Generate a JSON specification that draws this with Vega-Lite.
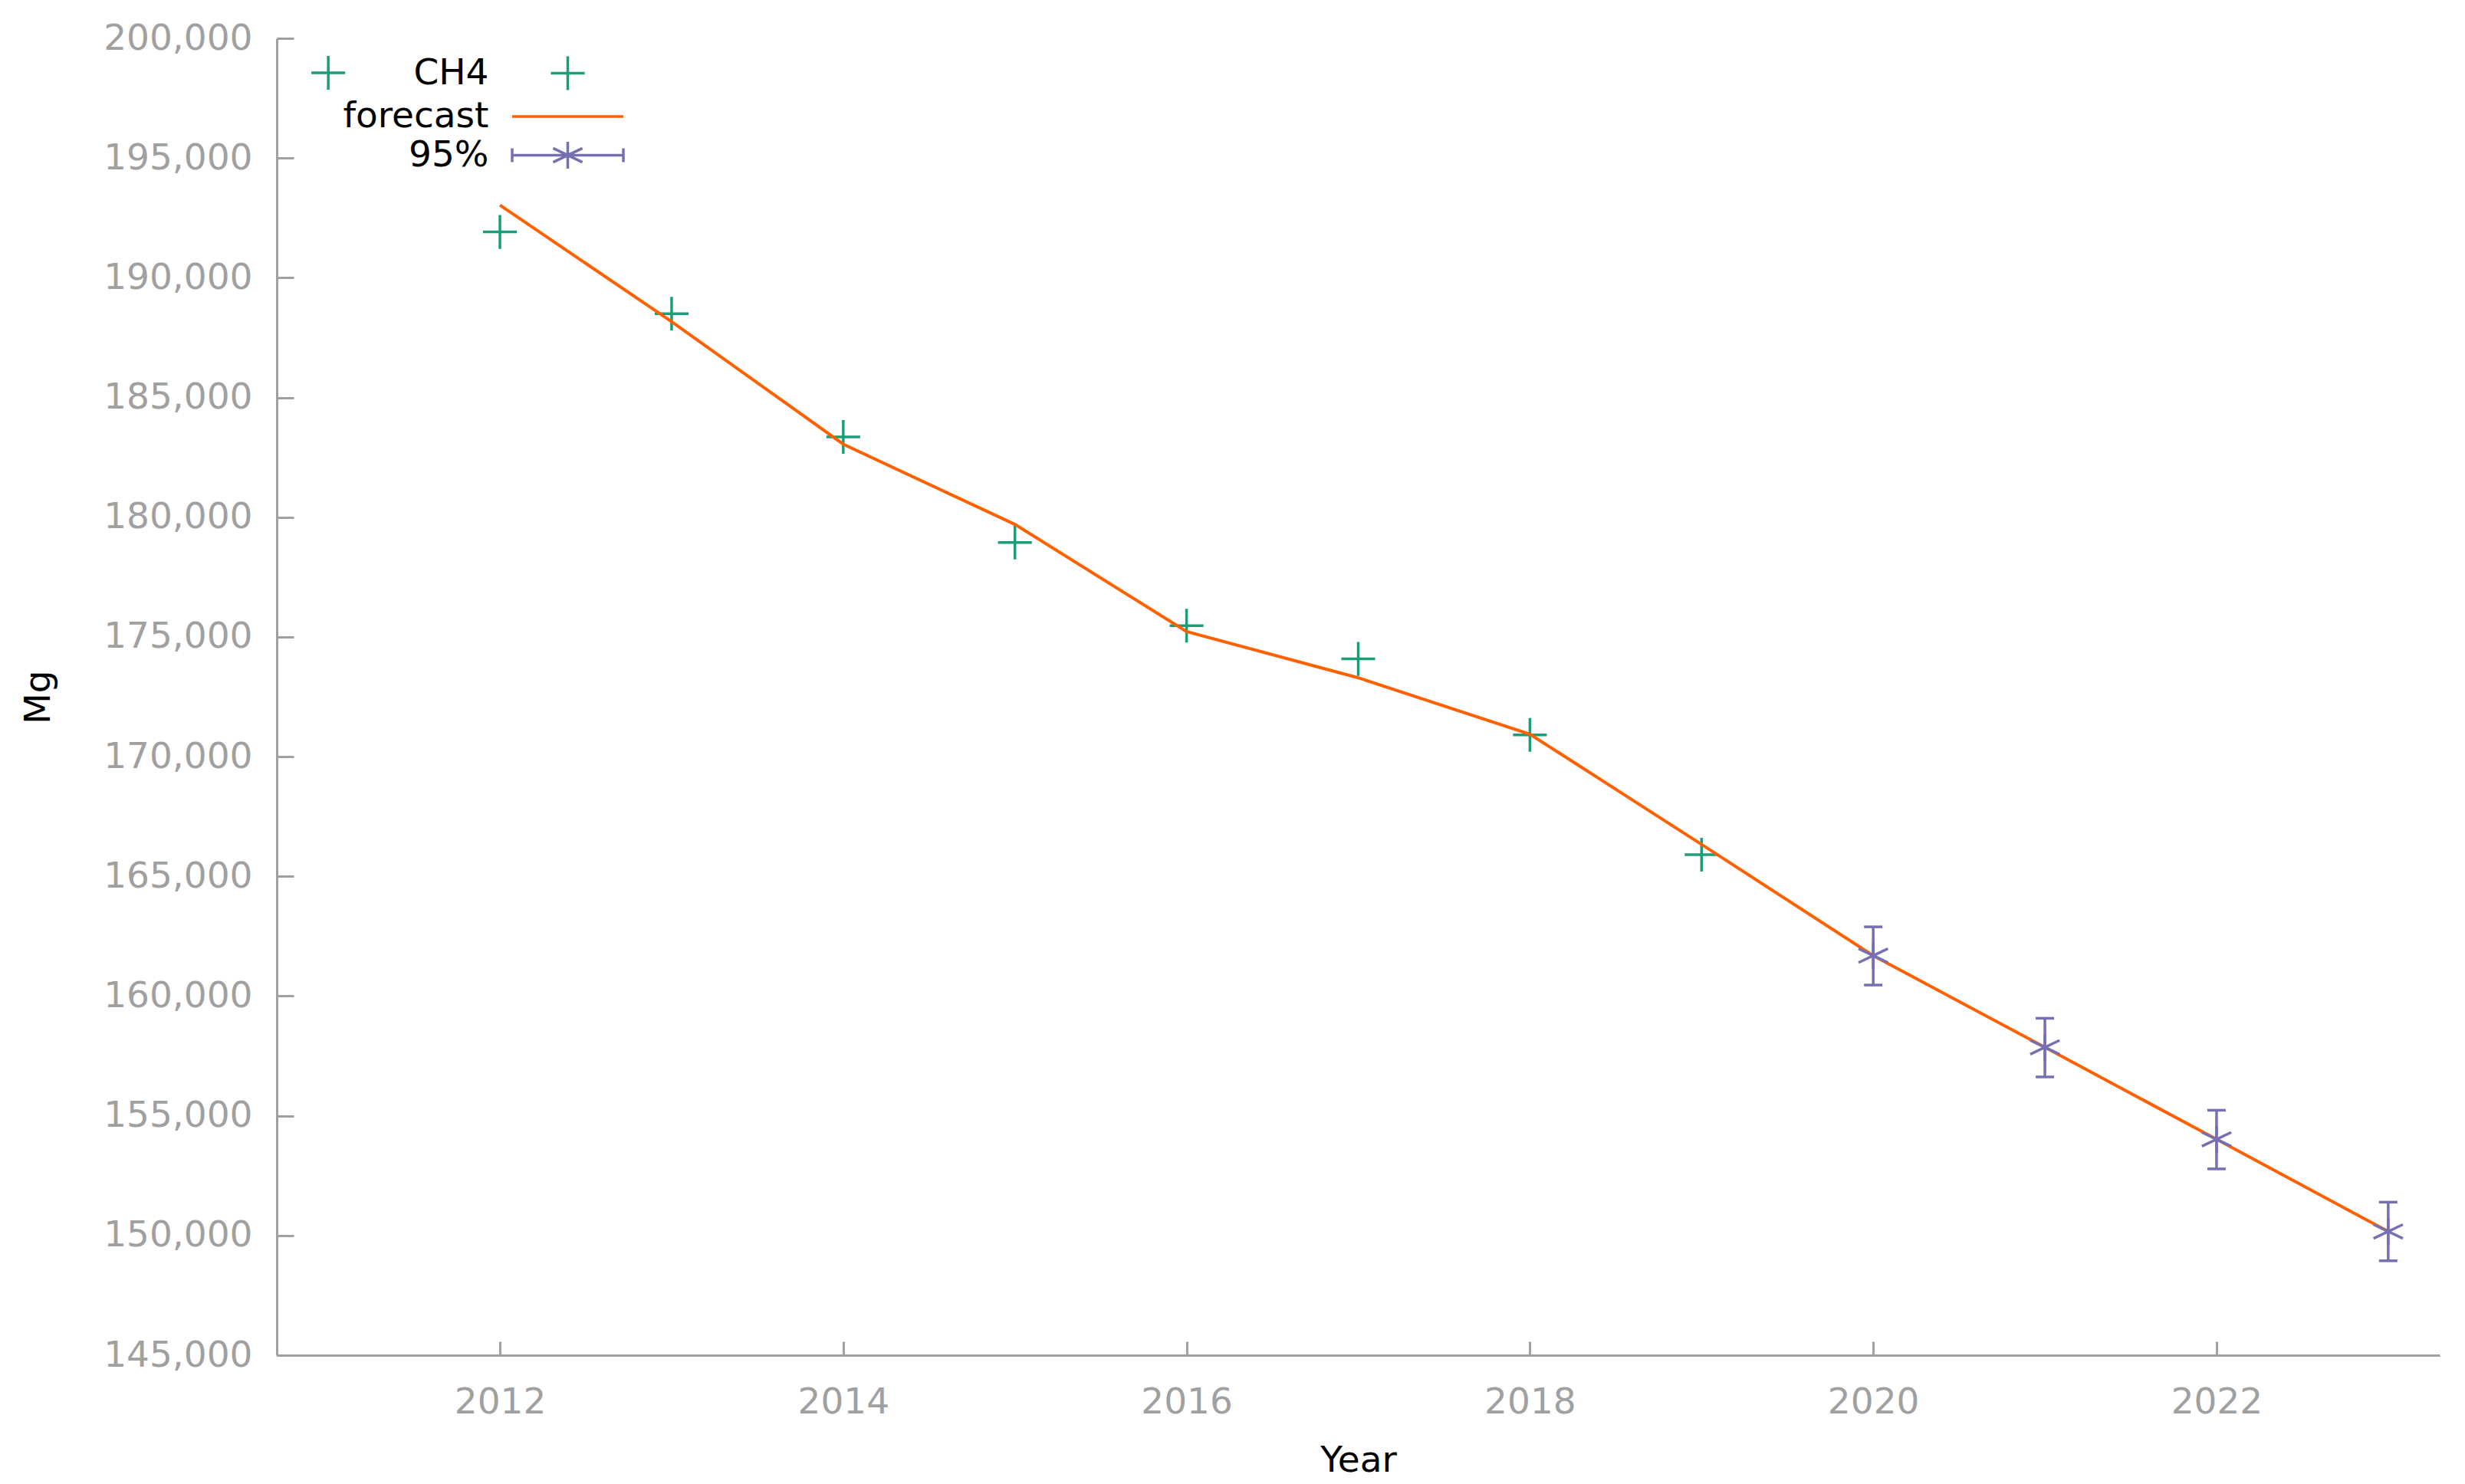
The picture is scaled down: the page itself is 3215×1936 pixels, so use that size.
{
  "$schema": "https://vega.github.io/schema/vega-lite/v6.json",
  "width": 2821,
  "height": 1718,
  "autosize": {"type": "none"},
  "padding": {"left": 361, "top": 50, "right": 33, "bottom": 168},
  "background": "white",
  "config": {"view": {"stroke": null}, "font": "DejaVu Sans"},
  "resolve": {"axis": {"x": "independent", "y": "independent"}},
  "datasets": {
    "obs": [
      {"year": 2011, "value": 198560, "series": "CH4"},
      {"year": 2012, "value": 191914, "series": "CH4"},
      {"year": 2013, "value": 188499, "series": "CH4"},
      {"year": 2014, "value": 183355, "series": "CH4"},
      {"year": 2015, "value": 178941, "series": "CH4"},
      {"year": 2016, "value": 175467, "series": "CH4"},
      {"year": 2017, "value": 174081, "series": "CH4"},
      {"year": 2018, "value": 170909, "series": "CH4"},
      {"year": 2019, "value": 165906, "series": "CH4"}
    ],
    "fc": [
      {"year": 2012, "value": 193030},
      {"year": 2013, "value": 188170},
      {"year": 2014, "value": 183050},
      {"year": 2015, "value": 179700},
      {"year": 2016, "value": 175224},
      {"year": 2017, "value": 173294},
      {"year": 2018, "value": 170940},
      {"year": 2019, "value": 166335},
      {"year": 2020, "value": 161690},
      {"year": 2021, "value": 157859},
      {"year": 2022, "value": 154018},
      {"year": 2023, "value": 150167}
    ],
    "ci": [
      {"year": 2020, "value": 161690, "lo": 160461, "hi": 162891},
      {"year": 2021, "value": 157859, "lo": 156623, "hi": 159072},
      {"year": 2022, "value": 154018, "lo": 152782, "hi": 155231},
      {"year": 2023, "value": 150167, "lo": 148944, "hi": 151393}
    ]
  },
  "layer": [
    {
      "data": {"name": "obs"},
      "mark": {"type": "point", "filled": false, "strokeWidth": 3.5, "size": 2401, "opacity": 1},
      "encoding": {
        "x": {
          "field": "year", "type": "quantitative",
          "scale": {"domain": [2010.7, 2023.3], "nice": false, "zero": false},
          "axis": {
            "values": [2012, 2014, 2016, 2018, 2020, 2022],
            "format": "d", "grid": false, "ticks": false,
            "domainColor": "#a0a0a0", "domainWidth": 3,
            "labelColor": "#a0a0a0", "labelFontSize": 47, "labelFont": "DejaVu Sans", "labelPadding": 38, "labelLimit": 1000,
            "title": "Year", "titleColor": "black", "titleFontSize": 47, "titleFont": "DejaVu Sans",
            "titleFontWeight": "normal", "titlePadding": 30
          }
        },
        "y": {
          "field": "value", "type": "quantitative",
          "scale": {"domain": [145000, 200000], "nice": false, "zero": false},
          "axis": {
            "values": [145000, 150000, 155000, 160000, 165000, 170000, 175000, 180000, 185000, 190000, 195000, 200000],
            "format": ",d", "grid": false, "ticks": false,
            "domainColor": "#a0a0a0", "domainWidth": 3,
            "labelColor": "#a0a0a0", "labelFontSize": 47, "labelFont": "DejaVu Sans", "labelPadding": 32, "labelLimit": 1000,
            "title": "Mg", "titleColor": "black", "titleFontSize": 47, "titleFont": "DejaVu Sans",
            "titleFontWeight": "normal", "titlePadding": 87
          }
        },
        "color": {
          "field": "series", "type": "nominal",
          "scale": {"domain": ["CH4", "forecast", "95%"], "range": ["#1b9e77", "#ff6000", "#7570b3"]},
          "legend": {
            "title": null, "orient": "none", "legendX": 353, "legendY": 19,
            "labelAlign": "right", "labelBaseline": "middle", "labelOffset": -129.5,
            "labelFontSize": 47, "labelFont": "DejaVu Sans", "labelColor": "black", "labelLimit": 1000,
            "symbolSize": 2401, "symbolStrokeWidth": 3.5, "rowPadding": 0.5, "padding": 0, "symbolOffset": 0
          }
        },
        "shape": {
          "field": "series", "type": "nominal",
          "scale": {
            "domain": ["CH4", "forecast", "95%"],
            "range": [
              "M-0.9,0L0.9,0M0,-0.9L0,0.9",
              "M-2.96,0L2.96,0",
              "M-2.96,0L2.96,0M-2.96,-0.37L-2.96,0.37M2.96,-0.37L2.96,0.37M0,-0.71L0,0.71M-0.78,-0.37L0.78,0.37M-0.78,0.37L0.78,-0.37"
            ]
          }
        }
      }
    },
    {
      "data": {"name": "fc"},
      "mark": {"type": "line", "color": "#ff6000", "strokeWidth": 4},
      "encoding": {
        "x": {"field": "year", "type": "quantitative", "axis": null},
        "y": {"field": "value", "type": "quantitative", "axis": null}
      }
    },
    {
      "data": {"name": "ci"},
      "mark": {"type": "rule", "color": "#7570b3", "strokeWidth": 3.5},
      "encoding": {
        "x": {"field": "year", "type": "quantitative", "axis": null},
        "y": {"field": "lo", "type": "quantitative", "axis": null},
        "y2": {"field": "hi"}
      }
    },
    {
      "data": {"name": "ci"},
      "mark": {"type": "tick", "orient": "horizontal", "color": "#7570b3", "size": 24, "thickness": 3.5, "opacity": 1},
      "encoding": {
        "x": {"field": "year", "type": "quantitative", "axis": null},
        "y": {"field": "lo", "type": "quantitative", "axis": null}
      }
    },
    {
      "data": {"name": "ci"},
      "mark": {"type": "tick", "orient": "horizontal", "color": "#7570b3", "size": 24, "thickness": 3.5, "opacity": 1},
      "encoding": {
        "x": {"field": "year", "type": "quantitative", "axis": null},
        "y": {"field": "hi", "type": "quantitative", "axis": null}
      }
    },
    {
      "data": {"name": "ci"},
      "mark": {
        "type": "point", "filled": false, "strokeWidth": 3.5, "size": 2401, "opacity": 1, "color": "#7570b3",
        "shape": "M0,-0.71L0,0.71M-0.78,-0.37L0.78,0.37M-0.78,0.37L0.78,-0.37"
      },
      "encoding": {
        "x": {
          "field": "year", "type": "quantitative",
          "axis": {
            "orient": "top", "offset": -1718,
            "values": [2012, 2014, 2016, 2018, 2020, 2022],
            "domain": false, "labels": false, "grid": false, "title": null,
            "ticks": true, "tickSize": 18, "tickWidth": 3, "tickColor": "#a0a0a0"
          }
        },
        "y": {
          "field": "value", "type": "quantitative",
          "axis": {
            "orient": "right", "offset": -2821,
            "values": [145000, 150000, 155000, 160000, 165000, 170000, 175000, 180000, 185000, 190000, 195000, 200000],
            "domain": false, "labels": false, "grid": false, "title": null,
            "ticks": true, "tickSize": 22, "tickWidth": 3, "tickColor": "#a0a0a0"
          }
        }
      }
    }
  ]
}
